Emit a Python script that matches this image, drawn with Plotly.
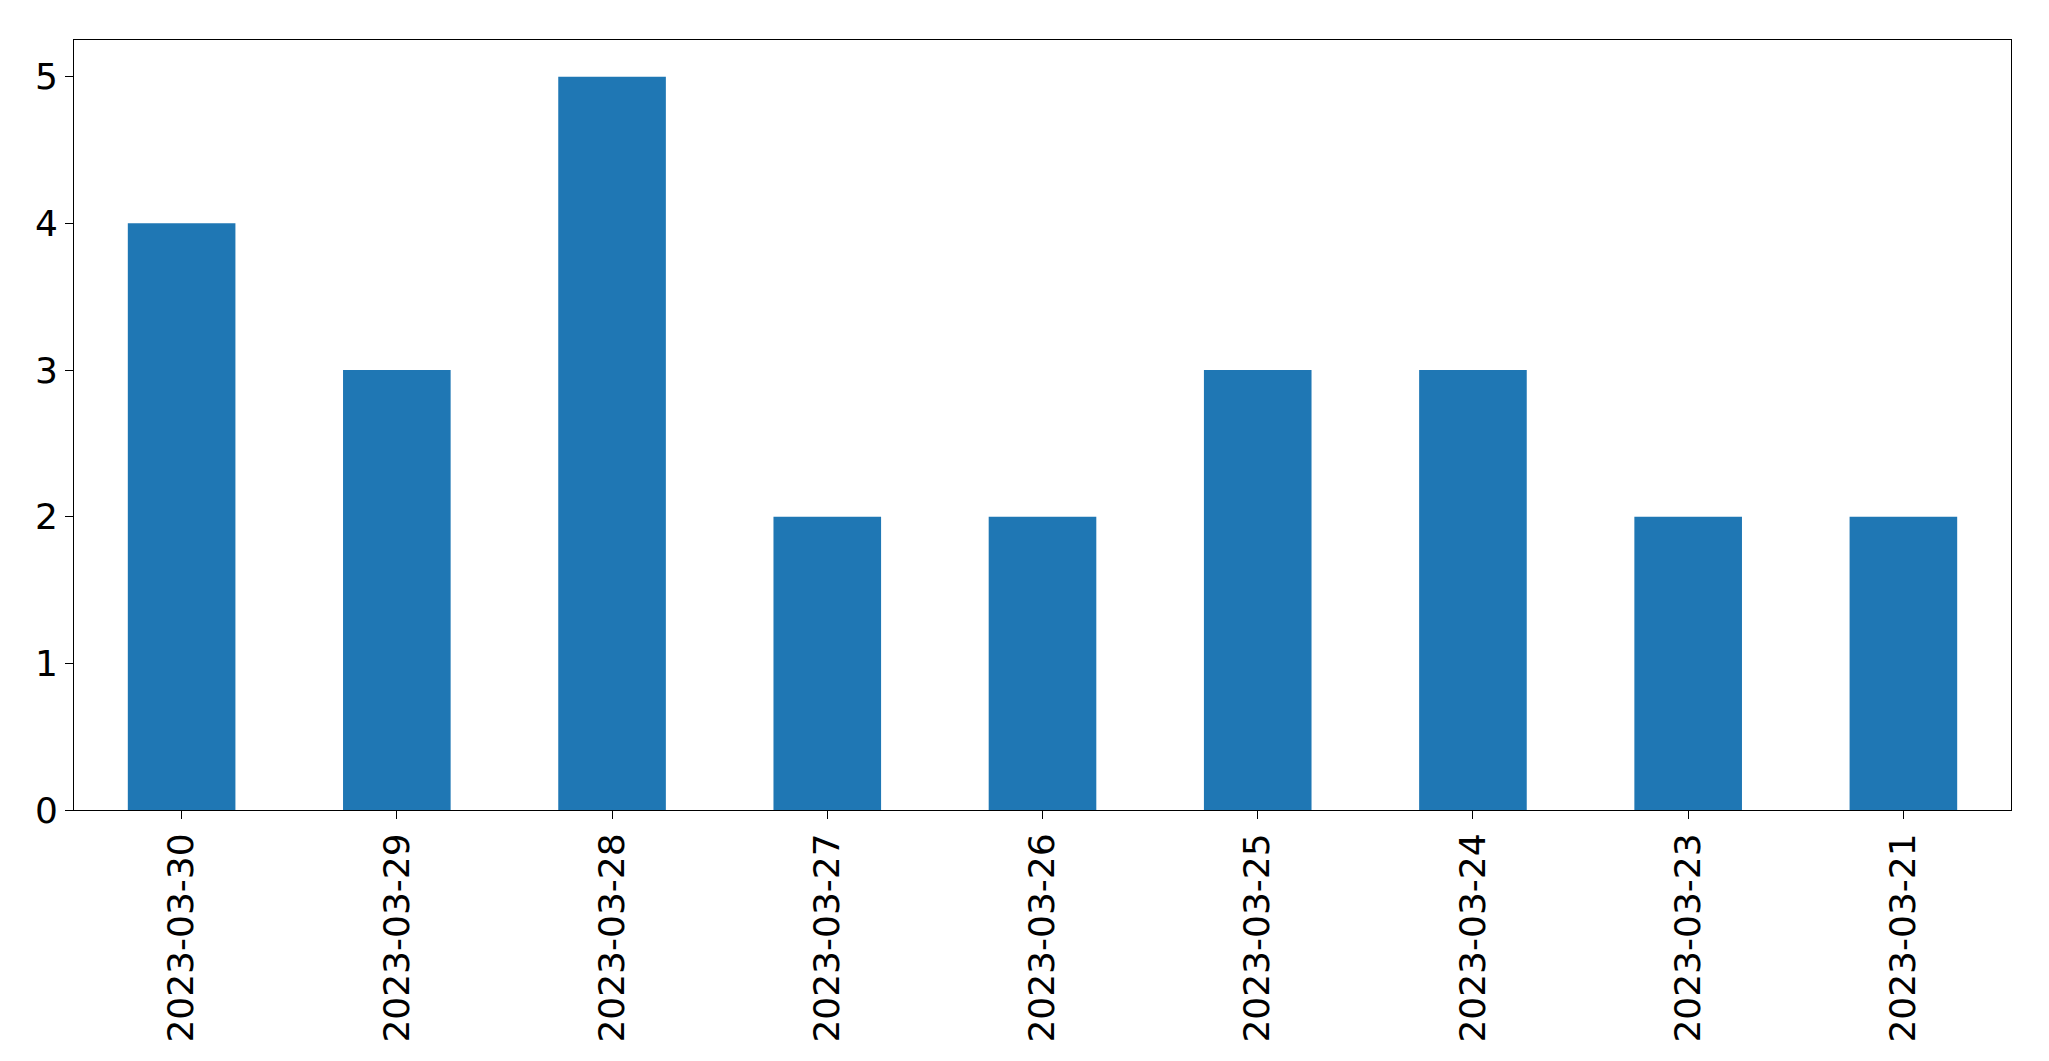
import plotly.graph_objects as go

dates = ["2023-03-30","2023-03-29","2023-03-28","2023-03-27","2023-03-26","2023-03-25","2023-03-24","2023-03-23","2023-03-21"]
counts = [4,3,5,2,2,3,3,2,2]

fig = go.Figure(go.Bar(x=dates, y=counts, width=0.5, marker=dict(color="#1f77b4", line=dict(width=0))))
fig.update_layout(
    width=2049, height=1061, plot_bgcolor="white", paper_bgcolor="white",
    margin=dict(l=66, r=46, t=32, b=259), showlegend=False,
    font=dict(family="DejaVu Sans", size=36, color="black"),
)
fig.update_xaxes(type="category", range=[-0.5, 8.5], tickangle=-90, showline=True, linecolor="black",
                 mirror=True, ticks="outside", ticklen=8, tickcolor="black", showgrid=False)
fig.update_yaxes(range=[0, 5.25], tickvals=[0,1,2,3,4,5], showline=True, linecolor="black",
                 mirror=True, ticks="outside", ticklen=8, tickcolor="black", showgrid=False, zeroline=False)
fig.write_html("out.html")
